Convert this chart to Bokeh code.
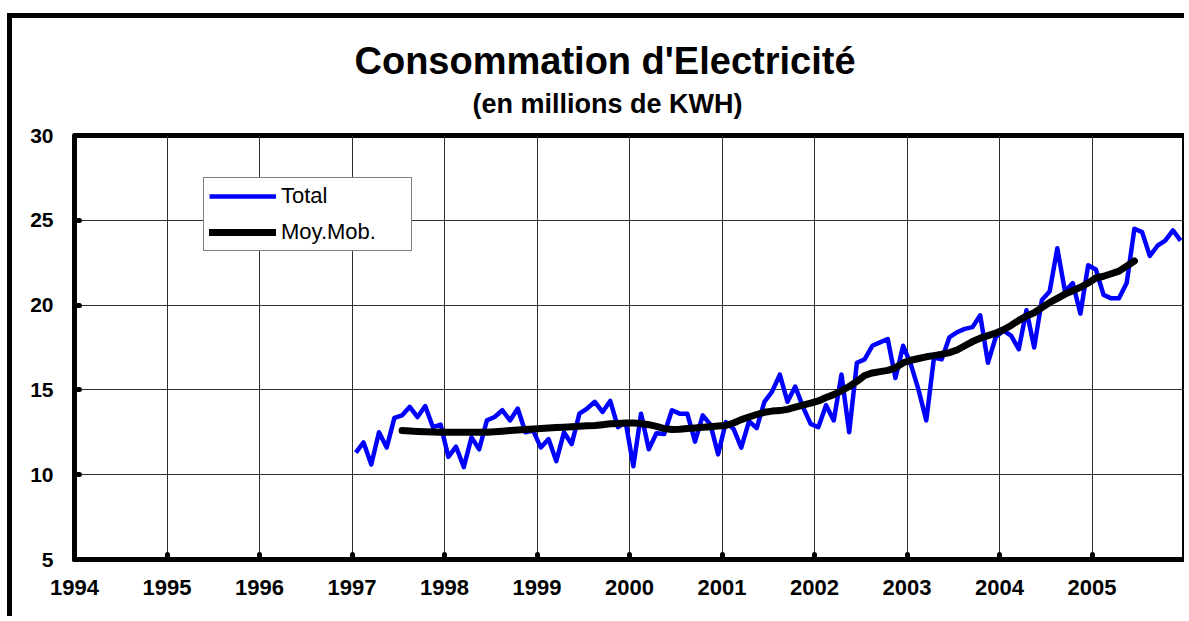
from bokeh.plotting import figure
from bokeh.models import Title, FixedTicker, Legend, LegendItem, Range1d, ColumnDataSource
from bokeh.embed import file_html
from bokeh.resources import INLINE

# ---------------- data (millions de KWH, monthly) ----------------
start_year = 1997
total_1997 = [11.3, 11.9, 10.6, 12.5, 11.6, 13.35, 13.5, 14.0, 13.4, 14.05, 12.8, 12.95]
total_1998 = [11.05, 11.65, 10.45, 12.2, 11.5, 13.2, 13.4, 13.8, 13.2, 13.9, 12.5, 12.6]
total_1999 = [11.6, 12.1, 10.8, 12.5, 11.8, 13.6, 13.9, 14.3, 13.7, 14.35, 12.8, 13.1]
total_2000 = [10.5, 13.6, 11.5, 12.45, 12.4, 13.8, 13.6, 13.6, 11.95, 13.5, 12.95, 11.2]
total_2001 = [13.1, 12.7, 11.6, 13.15, 12.75, 14.3, 14.9, 15.9, 14.3, 15.2, 14.0, 13.0]
total_2002 = [12.8, 14.1, 13.2, 15.9, 12.5, 16.6, 16.8, 17.6, 17.8, 18.0, 15.7, 17.6]
total_2003 = [16.5, 15.0, 13.2, 16.9, 16.8, 18.1, 18.4, 18.6, 18.7, 19.4, 16.6, 18.1]
total_2004 = [18.5, 18.2, 17.4, 19.7, 17.5, 20.3, 20.8, 23.35, 20.8, 21.3, 19.5, 22.35]
total_2005 = [22.1, 20.6, 20.4, 20.4, 21.3, 24.5, 24.3, 22.9, 23.5, 23.8, 24.4, 23.8]

# moving average, Jul 1997 .. Jun 2005
ma_first_month = 7
moy_mob = [
    12.6, 12.58, 12.55, 12.53, 12.52, 12.5,                      # 1997 Jul-Dec
    12.5, 12.5, 12.5, 12.5, 12.5, 12.5, 12.53, 12.56, 12.6, 12.63, 12.66, 12.7,   # 1998
    12.72, 12.75, 12.78, 12.8, 12.83, 12.86, 12.88, 12.9, 12.95, 13.0, 13.02, 13.05,  # 1999
    13.05, 13.02, 12.95, 12.85, 12.72, 12.67, 12.68, 12.72, 12.76, 12.8, 12.83, 12.87,  # 2000
    12.9, 13.05, 13.25, 13.4, 13.55, 13.68, 13.75, 13.78, 13.85, 13.98, 14.1, 14.22,  # 2001
    14.35, 14.55, 14.72, 14.95, 15.2, 15.5, 15.85, 16.0, 16.08, 16.15, 16.3, 16.6,   # 2002
    16.75, 16.85, 16.95, 17.02, 17.1, 17.2, 17.35, 17.6, 17.85, 18.05, 18.2, 18.35,  # 2003
    18.55, 18.8, 19.1, 19.35, 19.55, 19.85, 20.15, 20.4, 20.65, 20.85, 21.05, 21.3,  # 2004
    21.6, 21.7, 21.85, 22.0, 22.3, 22.6,                           # 2005 Jan-Jun
]

x_ticks = list(range(1994, 2007))
y_ticks = [5, 10, 15, 20, 25, 30]

title_text = "Consommation d'Electricité"
subtitle_text = "(en millions de KWH)"
legend_labels = ["Total", "Moy.Mob."]

# ---------------- build ----------------
total = (total_1997 + total_1998 + total_1999 + total_2000 + total_2001
         + total_2002 + total_2003 + total_2004 + total_2005)
x_total = [start_year + (i + 0.5) / 12 for i in range(len(total))]
x_ma = [start_year + (ma_first_month - 1 + i + 0.5) / 12 for i in range(len(moy_mob))]

FONT = "Liberation Sans"

p = figure(width=1172, height=598,
           x_range=Range1d(1994, 2006), y_range=Range1d(5, 30),
           output_backend="svg", toolbar_location=None,
           min_border_left=62, min_border_right=5, min_border_top=117, min_border_bottom=62)
p.styles = {"box-sizing": "content-box",
            "border-left": "5px solid black", "border-top": "5px solid black",
            "margin-left": "7px", "margin-top": "13px"}

# subtitle first (closest to the frame), then the main title above it
p.add_layout(Title(text=subtitle_text, align="left", offset=398, text_font=FONT,
                   text_color="black", text_font_size="27px", text_font_style="bold",
                   standoff=34), "above")
p.add_layout(Title(text=title_text, align="left", offset=280, text_font=FONT,
                   text_color="black", text_font_size="38px", text_font_style="bold",
                   standoff=-24), "above")

p.background_fill_color = "white"
p.border_fill_color = "white"
p.outline_line_color = "black"
p.outline_line_width = 5

for ax in (p.xaxis[0], p.yaxis[0]):
    ax.axis_line_width = 5
    ax.axis_line_color = "black"
    ax.major_tick_in = 5
    ax.major_tick_out = 0
    ax.major_tick_line_width = 5
    ax.major_tick_line_cap = "round"
    ax.major_tick_line_color = "black"
    ax.minor_tick_line_color = None
    ax.major_label_text_font = FONT
    ax.major_label_text_font_style = "bold"
    ax.major_label_text_color = "black"

p.xaxis.ticker = FixedTicker(ticks=x_ticks)
p.xaxis.major_label_overrides = {2006: ""}
p.xaxis.major_label_text_font_size = "22px"
p.xaxis.major_label_standoff = 20
p.yaxis.ticker = FixedTicker(ticks=y_ticks)
p.yaxis.major_label_text_font_size = "21px"
p.yaxis.major_label_standoff = 21

p.xgrid.ticker = FixedTicker(ticks=x_ticks)
p.ygrid.ticker = FixedTicker(ticks=y_ticks)
p.grid.grid_line_color = "#303030"
p.grid.grid_line_width = 1

src_total = ColumnDataSource(dict(x=x_total, y=total))
src_ma = ColumnDataSource(dict(x=x_ma, y=moy_mob))
r_total = p.line("x", "y", source=src_total, line_color="#0000FF", line_width=4.5,
                 line_join="round")
r_ma = p.line("x", "y", source=src_ma, line_color="black", line_width=7,
              line_join="round", line_cap="round")

legend = Legend(items=[LegendItem(label=legend_labels[0], renderers=[r_total]),
                       LegendItem(label=legend_labels[1], renderers=[r_ma])],
                location=(129, 308))
legend.label_text_font = FONT
legend.label_text_font_size = "22px"
legend.label_text_color = "black"
legend.border_line_color = "black"
legend.border_line_width = 1
legend.background_fill_alpha = 1
legend.padding = 5
legend.spacing = 10
legend.glyph_width = 67
legend.glyph_height = 18
legend.label_height = 18
legend.label_standoff = 5
legend.label_width = 125
legend.margin = 0
p.add_layout(legend, "center")

open("out.html", "w").write(file_html(p, INLINE))
